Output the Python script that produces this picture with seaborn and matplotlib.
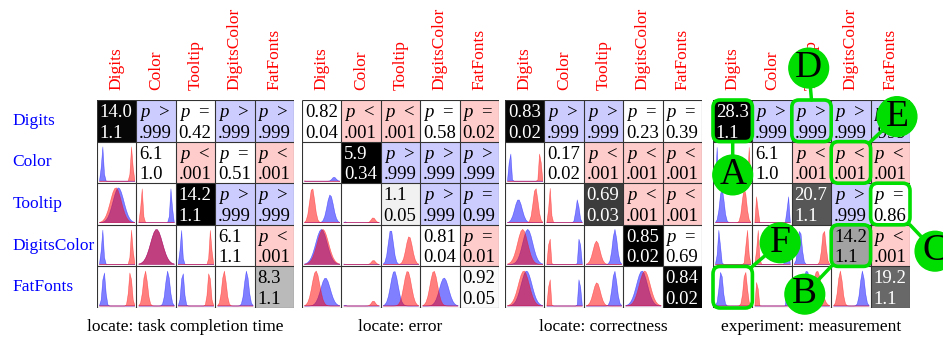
import numpy as np
import matplotlib
matplotlib.use('Agg')
import matplotlib.pyplot as plt
from matplotlib.colors import ListedColormap
from matplotlib.patches import FancyBboxPatch
import seaborn as sns

sns.set_theme(style='white')
plt.rcParams['font.family'] = ['Liberation Serif', 'DejaVu Serif']
plt.rcParams['mathtext.fontset'] = 'custom'
plt.rcParams['mathtext.rm'] = 'Liberation Serif'
plt.rcParams['mathtext.it'] = 'Liberation Serif:italic'

conditions = ['Digits', 'Color', 'Tooltip', 'DigitsColor', 'FatFonts']

# locate: task completion time (geometric mean / geometric sd)
tct_mean = [14.0, 6.1, 14.2, 6.1, 8.3]
tct_sd = [1.1, 1.0, 1.1, 1.1, 1.1]
tct_spread = [0.03, 0.03, 0.03, 0.03, 0.03]   # width of drawn density (log scale)
tct_p = ['> .999', '= 0.42', '> .999', '> .999',
         '< .001', '= 0.51', '< .001',
         '> .999', '> .999',
         '< .001']

# locate: error
err_mean = [0.82, 5.9, 1.1, 0.81, 0.92]
err_sd = [0.04, 0.34, 0.05, 0.04, 0.05]
err_p = ['< .001', '< .001', '= 0.58', '= 0.02',
         '> .999', '> .999', '> .999',
         '> .999', '= 0.99',
         '= 0.01']

# locate: correctness
cor_mean = [0.83, 0.17, 0.69, 0.85, 0.84]
cor_sd = [0.02, 0.02, 0.03, 0.02, 0.02]
cor_p = ['> .999', '> .999', '= 0.23', '= 0.39',
         '< .001', '< .001', '< .001',
         '< .001', '< .001',
         '= 0.69']

# experiment: measurement (geometric mean / geometric sd)
mea_mean = [28.3, 6.1, 20.7, 14.2, 19.2]
mea_sd = [1.1, 1.0, 1.1, 1.1, 1.1]
mea_spread = [0.03, 0.03, 0.03, 0.03, 0.03]
mea_p = ['> .999', '> .999', '> .999', '> .999',
         '< .001', '< .001', '< .001',
         '> .999', '= 0.86',
         '< .001']

titles = ['locate: task completion time', 'locate: error',
          'locate: correctness', 'experiment: measurement']

# annotations on the last matrix: letter, row, col, anchor in cell, offset (pt)
marks = [('A', 0, 0, (0.5, 1.0), (0, -24)),
         ('D', 0, 2, (0.5, 0.0), (-2, 23)),
         ('E', 1, 3, (1.0, 0.0), (19, 18)),
         ('C', 2, 4, (1.0, 1.0), (18, -19)),
         ('F', 4, 0, (1.0, 0.0), (20, 17)),
         ('B', 3, 3, (0.0, 1.0), (-19, -20))]

green = '#00dd00'
gray_cmap = sns.blend_palette(['white', 'black'], as_cmap=True)
p_cmap = ListedColormap(['white', '#ffcccc', '#ccccff'])

fig = plt.figure(figsize=(9.43, 3.41), dpi=100)
W, H = 943, 341
lefts = [97, 302, 505, 713]
mw, top, bot = 197, 100, 308
title_x = [0.447, 0.5, 0.5, 0.5]


def draw_density(ax, i, j, mu, s):
    # blue = row condition, red = column condition
    lo = min(mu[i] - 3 * s[i], mu[j] - 3 * s[j])
    hi = max(mu[i] + 3 * s[i], mu[j] + 3 * s[j])
    x = np.linspace(lo, hi, 22)
    ins = ax.inset_axes([(j + 0.05) / 5, 1 - (i + 0.94) / 5, 0.9 / 5, 0.86 / 5])
    for k, c in ((i, '#0000ff'), (j, '#ff0000')):
        y = np.exp(-0.5 * ((x - mu[k]) / s[k]) ** 2) / s[k]
        ins.fill_between(x, y, color=c, alpha=0.5, lw=0.4)
    ins.set_xlim(lo, hi)
    ins.set_ylim(0, 1.02 / min(s[i], s[j]))
    ins.axis('off')


def draw_matrix(k, means, sds, pvals, spread, logscale, fmt):
    ax = fig.add_axes([lefts[k] / W, (H - bot) / H, mw / W, (bot - top) / H])
    n = len(means)
    diag = np.full((n, n), np.nan)
    np.fill_diagonal(diag, means)
    sns.heatmap(diag, cmap=gray_cmap, vmin=min(means), vmax=max(means),
                cbar=False, ax=ax)

    code = np.full((n, n), np.nan)
    iu = list(zip(*np.triu_indices(n, 1)))
    pnum = [float(p[2:]) for p in pvals]
    for (i, j), v in zip(iu, pnum):
        code[i, j] = 1 if v < 0.05 else (2 if v > 0.95 else 0)
    sns.heatmap(code, cmap=p_cmap, vmin=-0.5, vmax=2.5, cbar=False, ax=ax)

    ax.hlines(range(n + 1), 0, n, colors='#333333', lw=0.8)
    ax.vlines(range(n + 1), 0, n, colors='#333333', lw=0.8)

    # diagonal: mean and sd
    for i in range(n):
        shade = (means[i] - min(means)) / (max(means) - min(means))
        tc = 'white' if shade > 0.5 else 'black'
        ax.text(i + 0.07, i + 0.41, fmt(means[i]), color=tc, fontsize=13.5,
                ha='left', va='baseline')
        ax.text(i + 0.07, i + 0.905, fmt(sds[i]), color=tc, fontsize=13.5,
                ha='left', va='baseline')

    # upper triangle: p-values
    for (i, j), p in zip(iu, pvals):
        ax.text(j + 0.07, i + 0.41, '$p$  ' + p[0], fontsize=13.5,
                ha='left', va='baseline', color='black')
        ax.text(j + 0.07, i + 0.905, p[2:], fontsize=13.5,
                ha='left', va='baseline', color='black')

    # lower triangle: densities
    mu = np.log(means) if logscale else np.array(means)
    for i in range(n):
        for j in range(i):
            draw_density(ax, i, j, mu, spread)

    ax.xaxis.tick_top()
    ax.set_xticks(np.arange(n) + 0.5)
    ax.set_xticklabels(conditions, rotation=90, color='red', fontsize=12.5)
    ax.tick_params(axis='x', length=0, pad=7)
    ax.set_yticks(np.arange(n) + 0.5)
    if k == 0:
        ax.set_yticklabels(conditions, color='blue', fontsize=12.5, ha='left',
                           rotation=0)
        ax.tick_params(axis='y', length=0, pad=61)
    else:
        ax.set_yticklabels([])
        ax.tick_params(axis='y', length=0)
    ax.text(title_x[k], -0.09, titles[k], transform=ax.transAxes,
            ha='center', va='center', fontsize=12.5, color='black')
    return ax


one = lambda v: '{:.1f}'.format(v)
two = lambda v: '{:.2g}'.format(v)

draw_matrix(0, tct_mean, tct_sd, tct_p, tct_spread, True, one)
draw_matrix(1, err_mean, err_sd, err_p, err_sd, False, two)
draw_matrix(2, cor_mean, cor_sd, cor_p, cor_sd, False, two)
ax4 = draw_matrix(3, mea_mean, mea_sd, mea_p, mea_spread, True, one)

for letter, i, j, (fx, fy), off in marks:
    ax4.add_patch(FancyBboxPatch((j, i), 1, 1,
                                 boxstyle='round,pad=0,rounding_size=0.18',
                                 fc='none', ec=green, lw=2.6, zorder=11,
                                 clip_on=False))
    ax4.annotate(letter, xy=(j + fx, i + fy), xycoords='data',
                 xytext=off, textcoords='offset points',
                 ha='center', va='center', fontsize=27, color='black',
                 bbox=dict(boxstyle='circle,pad=0.07', fc=green, ec=green),
                 arrowprops=dict(arrowstyle='-', color=green, lw=2.5,
                                 shrinkA=0, shrinkB=0),
                 zorder=12, annotation_clip=False)

fig.savefig('out.png', dpi=100)
